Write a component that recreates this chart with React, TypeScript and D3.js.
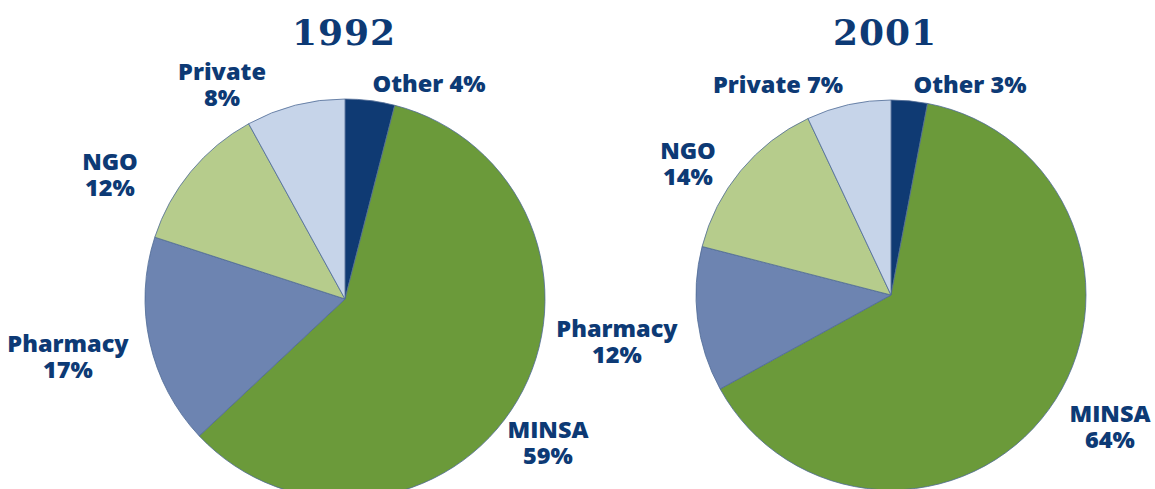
import React from "react";
import * as d3 from "d3";

const categories = ["Other", "MINSA", "Pharmacy", "NGO", "Private"];
const values1992 = [4, 59, 17, 12, 8];
const values2001 = [3, 64, 12, 14, 7];
const years = ["1992", "2001"];
const colors = ["#0f3a73", "#6b9a3a", "#6d84b1", "#b6cc8c", "#c6d4e9"];

// label layouts: [lines, x, y] per category
const labels1992: [string[], number, number][] = [
  [["Other 4%"], 429, 92],
  [["MINSA", "59%"], 548, 438],
  [["Pharmacy", "17%"], 68, 352],
  [["NGO", "12%"], 110, 170],
  [["Private", "8%"], 222, 80],
];
const labels2001: [string[], number, number][] = [
  [["Other 3%"], 970, 93],
  [["MINSA", "64%"], 1110, 422],
  [["Pharmacy", "12%"], 617, 337],
  [["NGO", "14%"], 688, 159],
  [["Private 7%"], 778, 93],
];

const pies = [
  { year: years[0], values: values1992, cx: 345, cy: 299, r: 200, titleX: 344, labels: labels1992 },
  { year: years[1], values: values2001, cx: 891, cy: 295, r: 195, titleX: 885, labels: labels2001 },
];

const textColor = "#0d3a75";

export default function App() {
  const W = 1155;
  const H = 489;
  return (
    <svg width={W} height={H} style={{ position: "absolute", left: 0, top: 0, background: "#fff" }}>
      {pies.map((p) => {
        const pie = d3.pie<number>().sort(null).value((d) => d)(p.values);
        const arc = d3.arc<d3.PieArcDatum<number>>().innerRadius(0).outerRadius(p.r);
        return (
          <g key={p.year}>
            <text
              x={p.titleX}
              y={45}
              textAnchor="middle"
              fill={textColor}
              fontFamily="'DejaVu Serif', serif"
              fontWeight={900}
              fontSize={36}
              letterSpacing={1}
            >
              {p.year}
            </text>
            <g transform={`translate(${p.cx},${p.cy})`}>
              {pie.map((s, i) => (
                <path
                  key={categories[i]}
                  d={arc(s) || ""}
                  fill={colors[i]}
                  stroke="#4f6b96"
                  strokeWidth={0.8}
                />
              ))}
            </g>
            {p.labels.map(([lines, x, y], i) =>
              lines.map((l, j) => (
                <text
                  key={categories[i] + j}
                  x={x}
                  y={y + j * 26}
                  textAnchor="middle"
                  fill={textColor}
                  fontFamily="'Open Sans', sans-serif"
                  fontWeight={800}
                  fontSize={23.5}
                >
                  {l}
                </text>
              ))
            )}
          </g>
        );
      })}
    </svg>
  );
}
